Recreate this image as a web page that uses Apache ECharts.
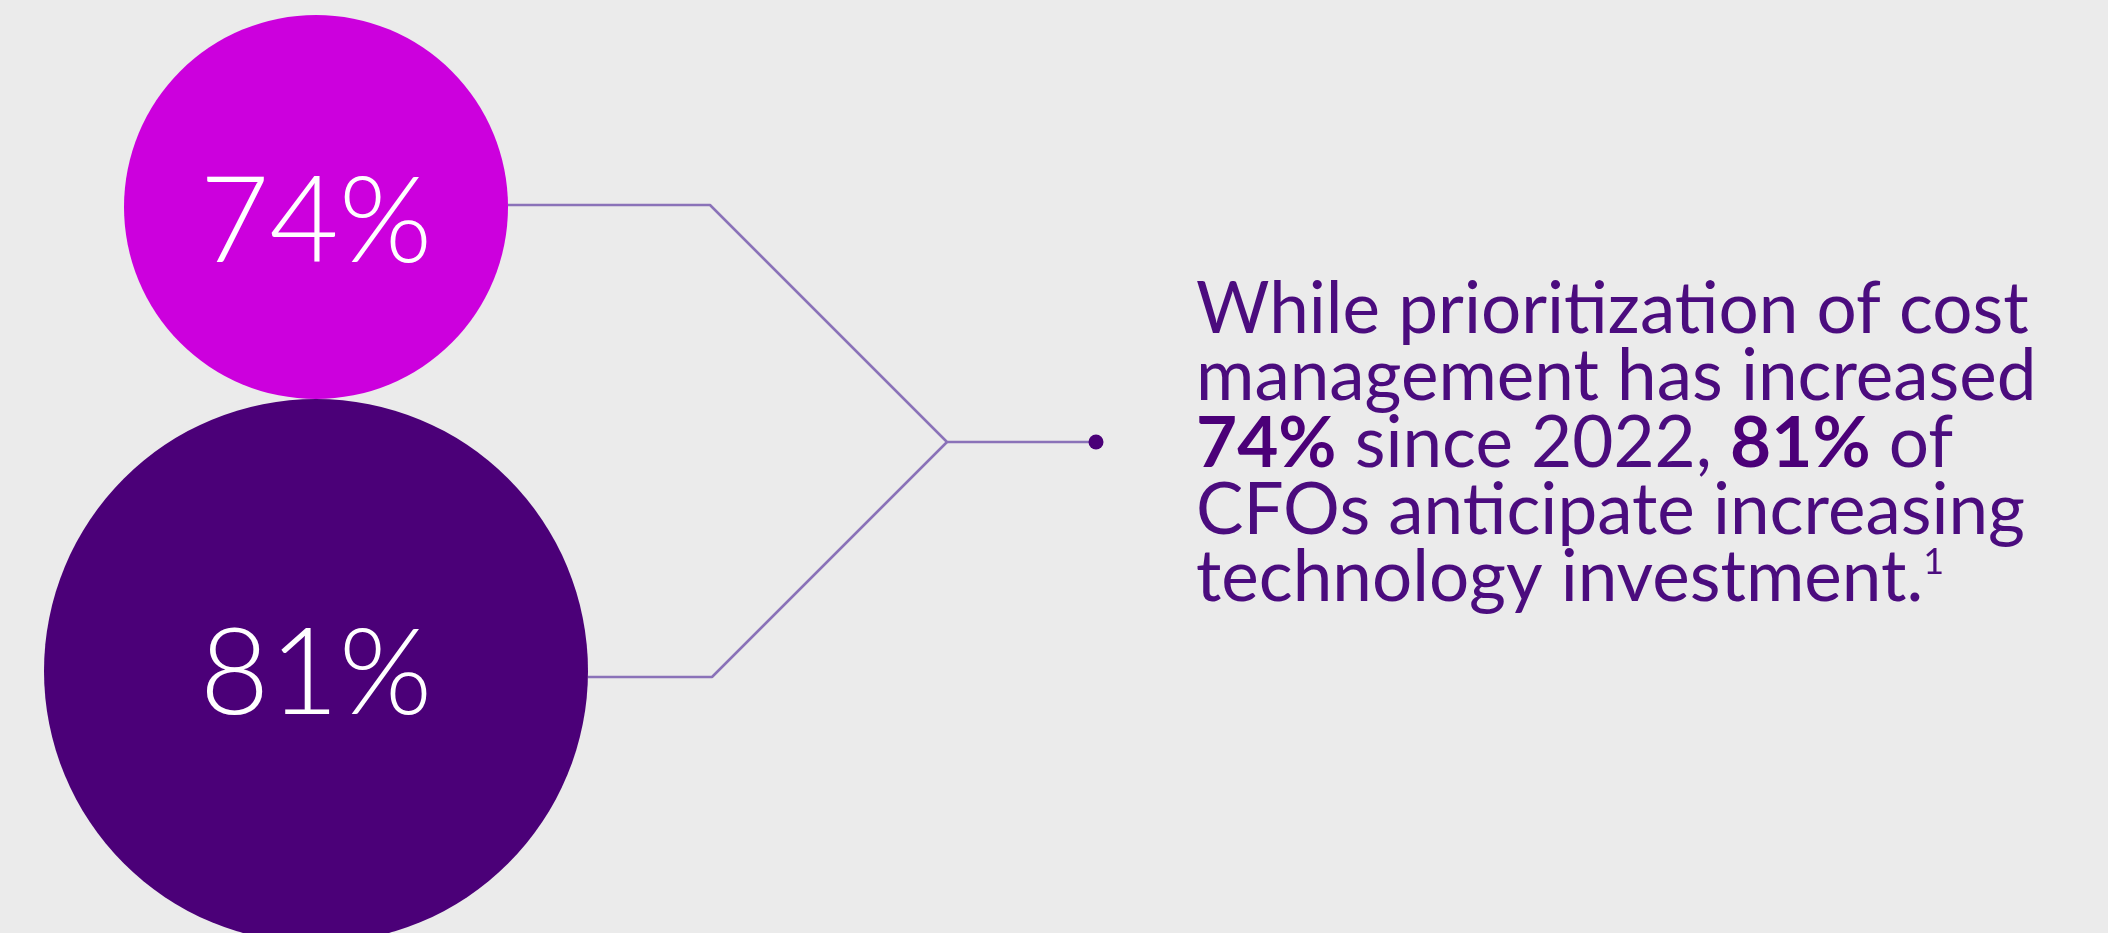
<!DOCTYPE html>
<html>
<head>
<meta charset="utf-8">
<script src="https://cdn.jsdelivr.net/npm/echarts@6/dist/echarts.min.js"></script>
<style>
html, body { margin: 0; padding: 0; background: #ebebeb; }
#chart { width: 2108px; height: 933px; }
</style>
</head>
<body>
<div id="chart"></div>
<script>
// ---- data ----
const categories = ['Cost management prioritization increase since 2022', 'CFOs anticipating increasing technology investment'];
const values = [74, 81];
const valueLabels = values.map(v => v + '%');
const paragraphLines = [
  [['r', 'While prioritization of cost']],
  [['r', 'management has increased']],
  [['b', '74%'], ['r', ' since 2022, '], ['b', '81%'], ['r', ' of']],
  [['r', 'CFOs anticipate increasing']],
  [['r', 'technology investment.'], ['sup', '1']]
];

// ---- layout ----
const W = 2108, H = 933;
const circleX = 316;
const circleY = [207, 671];
const circleD = [384, 544];
const circleColors = ['#cc00dd', '#4b0078'];
const labelOffsetY = [16, 4];
const topConnector = [[508, 205], [710, 205], [947, 442], [1096, 442]];
const bottomConnector = [[588, 677], [712, 677], [947, 442]];
const dotPoint = [1096, 442];
const textLeft = 1196;
const lineH = 67;
const lineColor = '#8a72b8';
const textColor = '#4b0c7e';

function measure(text, font) {
  const c = document.createElement('canvas').getContext('2d');
  c.font = font;
  return c.measureText(text).width;
}
const bodyFamily = 'Lato';
const bodySize = Math.round(845 * 100 / measure('management has increased', '400 100px ' + bodyFamily));
const labelSize = Math.round(233 * 100 / measure('74%', '300 100px ' + bodyFamily));

const richText = paragraphLines.map(line => line.map(([s, t]) => '{' + s + '|' + t + '}').join('')).join('\n');

const chart = echarts.init(document.getElementById('chart'), null, { renderer: 'canvas' });
chart.setOption({
  backgroundColor: '#ebebeb',
  animation: false,
  grid: { left: 0, right: 0, top: 0, bottom: 0 },
  xAxis: { type: 'value', min: 0, max: W, show: false },
  yAxis: { type: 'value', min: 0, max: H, inverse: true, show: false },
  title: {
    left: textLeft,
    top: 444 - 2.5 * lineH,
    padding: 0,
    text: richText,
    textStyle: {
      fontFamily: bodyFamily,
      fontSize: bodySize,
      fontWeight: 'normal',
      color: textColor,
      lineHeight: lineH,
      rich: {
        r: { fontFamily: bodyFamily, fontSize: bodySize, fontWeight: 'normal', color: textColor, lineHeight: lineH },
        b: { fontFamily: bodyFamily, fontSize: bodySize, fontWeight: 'bold', color: '#4b0078', lineHeight: lineH },
        sup: { fontFamily: bodyFamily, fontSize: Math.round(bodySize * 0.5), color: textColor, lineHeight: Math.round(lineH * 0.5), verticalAlign: 'top' }
      }
    }
  },
  series: [
    {
      type: 'line', data: topConnector, symbol: 'none', silent: true, z: 1,
      lineStyle: { color: lineColor, width: 2.5 }
    },
    {
      type: 'line', data: bottomConnector, symbol: 'none', silent: true, z: 1,
      lineStyle: { color: lineColor, width: 2.5 }
    },
    {
      type: 'scatter', clip: false, z: 3, silent: true,
      data: values.map((v, i) => ({
        name: categories[i],
        value: [circleX, circleY[i], v],
        symbolSize: circleD[i],
        itemStyle: { color: circleColors[i], opacity: 1 },
        label: {
          show: true, position: 'inside', offset: [0, labelOffsetY[i]],
          formatter: valueLabels[i],
          color: '#ffffff', fontFamily: bodyFamily, fontWeight: 300, fontSize: labelSize
        }
      }))
    },
    {
      type: 'scatter', clip: false, z: 4, silent: true,
      data: [dotPoint], symbolSize: 15,
      itemStyle: { color: '#4b0078', opacity: 1 }
    }
  ]
});
</script>
</body>
</html>
